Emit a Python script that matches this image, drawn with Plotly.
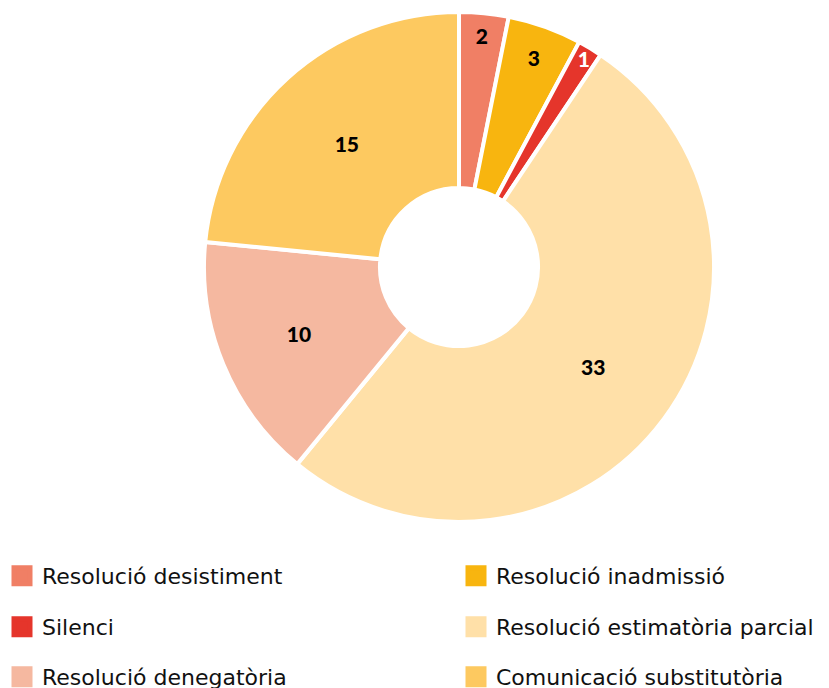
import plotly.graph_objects as go

categories = ["Resolució desistiment", "Resolució inadmissió", "Silenci",
              "Resolució estimatòria parcial", "Resolució denegatòria",
              "Comunicació substitutòria"]
values = [2, 3, 1, 33, 10, 15]
colors = ["#F07F65", "#F8B50F", "#E5352B", "#FFE0A8", "#F5B8A0", "#FDC960"]
label_colors = ["#000000", "#000000", "#FFFFFF", "#000000", "#000000", "#000000"]

W, H = 829, 688
cx, cy, R = 459, 267, 255
# legend grid (row, column) for each category
legend_cells = [(0, 0), (0, 1), (1, 0), (1, 1), (2, 0), (2, 1)]
row_y = [576, 627, 677]
col_x = [2, 456]

fig = go.Figure()
fig.add_trace(go.Pie(
    labels=categories, values=values, sort=False, direction="clockwise",
    rotation=0, hole=0.31,
    marker=dict(colors=colors, line=dict(color="white", width=4)),
    textinfo="value", textposition="inside", insidetextorientation="horizontal",
    textfont=dict(family="Lato", size=21, color=label_colors, weight=900),
    showlegend=False, hoverinfo="label+value",
    domain=dict(x=[(cx - R) / W, (cx + R) / W], y=[(H - cy - R) / H, (H - cy + R) / H]),
))

layout_legends = {}
for i, (r, c) in enumerate(legend_cells):
    name = "legend" if i == 0 else f"legend{i + 1}"
    fig.add_trace(go.Scatter(
        x=[None], y=[None], mode="markers", name=categories[i],
        marker=dict(symbol="square", size=16, color=colors[i],
                    line=dict(color=colors[i], width=5)),
        legend=name, showlegend=True,
    ))
    layout_legends[name] = dict(
        orientation="h", xanchor="left", yanchor="middle",
        x=col_x[c] / W, y=(H - row_y[r]) / H,
        font=dict(family="DejaVu Sans", size=22, color="#111111"),
        bgcolor="rgba(0,0,0,0)", borderwidth=0, itemclick=False,
    )

fig.update_layout(
    width=W, height=H,
    margin=dict(l=0, r=0, t=0, b=0, autoexpand=False),
    paper_bgcolor="white", plot_bgcolor="white",
    xaxis=dict(visible=False), yaxis=dict(visible=False),
    uniformtext=dict(minsize=21, mode="show"),
    **layout_legends,
)
fig.write_html("out.html", config={"displayModeBar": False},
               post_script="document.body.style.margin='0';")
